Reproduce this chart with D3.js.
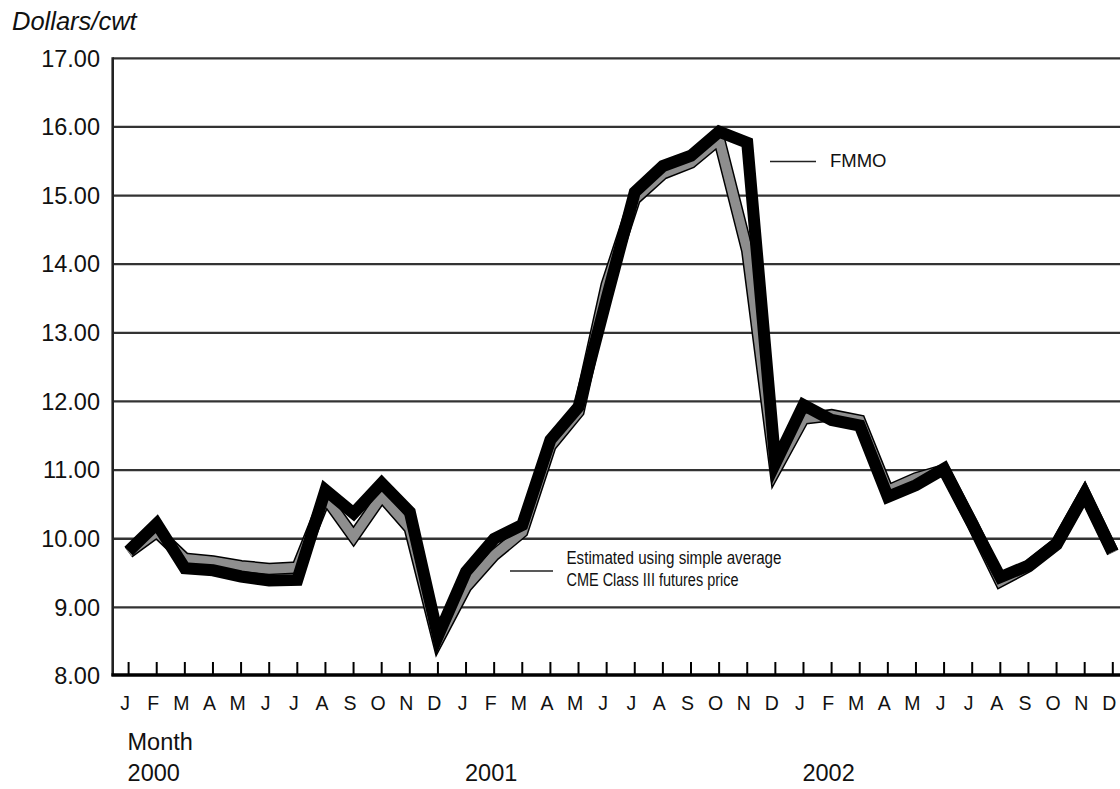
<!DOCTYPE html>
<html>
<head>
<meta charset="utf-8">
<script src="https://cdn.jsdelivr.net/npm/d3@7"></script>
<style>
  html, body { margin: 0; padding: 0; background: #fff; }
  svg { display: block; font-family: "Liberation Sans", Arial, sans-serif; }
</style>
</head>
<body>
<svg id="chart" width="1120" height="789"></svg>
<script>
// ---- data ----
const monthLetters = ["J","F","M","A","M","J","J","A","S","O","N","D",
                      "J","F","M","A","M","J","J","A","S","O","N","D",
                      "J","F","M","A","M","J","J","A","S","O","N","D"];
const years = ["2000", "2001", "2002"];
const fmmo = [9.82, 10.22, 9.57, 9.54, 9.45, 9.39, 9.40, 10.71, 10.37, 10.81, 10.39, 8.58,
              9.52, 10.00, 10.20, 11.44, 11.92, 13.50, 15.05, 15.43, 15.58, 15.93, 15.77, 11.10,
              11.95, 11.73, 11.65, 10.61, 10.78, 11.02, 10.22, 9.44, 9.61, 9.93, 10.66, 9.81];
const estimated = [9.80, 10.10, 9.71, 9.67, 9.60, 9.56, 9.58, 10.60, 10.03, 10.62, 10.15, 8.52,
                   9.30, 9.76, 10.10, 11.35, 11.85, 13.70, 14.95, 15.32, 15.48, 15.82, 14.20, 11.00,
                   11.75, 11.80, 11.72, 10.70, 10.88, 11.00, 10.22, 9.38, 9.60, 9.92, 10.65, 9.80];
const yTicks = [8, 9, 10, 11, 12, 13, 14, 15, 16, 17];
const yAxisTitle = "Dollars/cwt";
const xAxisTitle = "Month";
const legendFMMO = "FMMO";
const legendEst = ["Estimated using simple average", "CME Class III futures price"];

// ---- layout ----
const svg = d3.select("#chart");
const W = 1120;
const x = d3.scaleLinear().domain([0, monthLetters.length - 1]).range([128.6, 1112.8]);
const y = d3.scaleLinear().domain([8, 17]).range([676, 58.3]);
const axisX = 112.7;

// gridlines
svg.append("g").selectAll("line").data(yTicks.filter(d => d > 8)).join("line")
  .attr("x1", axisX).attr("x2", W)
  .attr("y1", d => y(d)).attr("y2", d => y(d))
  .attr("stroke", "#333").attr("stroke-width", 2.3);

// y tick labels
svg.append("g").selectAll("text").data(yTicks).join("text")
  .attr("x", 100).attr("y", d => y(d)).attr("dy", "0.35em")
  .attr("text-anchor", "end").attr("font-size", 23.5).attr("fill", "#111")
  .text(d => d.toFixed(2));

// y axis title
svg.append("text").attr("x", 12).attr("y", 29.5)
  .attr("font-size", 25.5).attr("font-style", "italic").attr("fill", "#111")
  .text(yAxisTitle);

// lines
const idx = d3.range(monthLetters.length);
const lineGen = vals => d3.line().x(i => x(i)).y(i => y(vals[i]))(idx);

svg.append("path").attr("d", lineGen(estimated))
  .attr("fill", "none").attr("stroke", "#000").attr("stroke-width", 12.5)
  .attr("stroke-linejoin", "miter").attr("stroke-miterlimit", 6);
svg.append("path").attr("d", lineGen(estimated))
  .attr("fill", "none").attr("stroke", "#8e8e8e").attr("stroke-width", 9.5)
  .attr("stroke-linejoin", "miter").attr("stroke-miterlimit", 6);
svg.append("path").attr("d", lineGen(fmmo))
  .attr("fill", "none").attr("stroke", "#000").attr("stroke-width", 12)
  .attr("stroke-linejoin", "miter").attr("stroke-miterlimit", 6);

// axes
svg.append("line").attr("x1", axisX).attr("x2", axisX).attr("y1", y(17) - 1).attr("y2", 676)
  .attr("stroke", "#222").attr("stroke-width", 2.6);
svg.append("line").attr("x1", axisX - 1.3).attr("x2", W).attr("y1", 675).attr("y2", 675)
  .attr("stroke", "#000").attr("stroke-width", 3.6);
svg.append("g").selectAll("line").data(idx).join("line")
  .attr("x1", i => x(i)).attr("x2", i => x(i))
  .attr("y1", 662).attr("y2", 675)
  .attr("stroke", "#000").attr("stroke-width", 2);

// month labels
svg.append("g").selectAll("text").data(idx).join("text")
  .attr("x", i => x(i) - 3.5).attr("y", 710)
  .attr("text-anchor", "middle").attr("font-size", 19.5).attr("fill", "#111")
  .text(i => monthLetters[i]);

// x title and years
svg.append("text").attr("x", 127.5).attr("y", 750)
  .attr("font-size", 23.5).attr("fill", "#111").text(xAxisTitle);
svg.append("g").selectAll("text").data(years).join("text")
  .attr("x", (d, k) => x(k * 12) - 1).attr("y", 781)
  .attr("font-size", 23.5).attr("fill", "#111").text(d => d);

// legends
svg.append("line").attr("x1", 770).attr("x2", 816).attr("y1", 161.5).attr("y2", 161.5)
  .attr("stroke", "#222").attr("stroke-width", 1.6);
svg.append("text").attr("x", 830).attr("y", 166.5)
  .attr("font-size", 18.5).attr("fill", "#111").text(legendFMMO);

svg.append("line").attr("x1", 510).attr("x2", 553).attr("y1", 571).attr("y2", 571)
  .attr("stroke", "#222").attr("stroke-width", 1.6);
const legW = [215, 172];
svg.append("g").selectAll("text").data(legendEst).join("text")
  .attr("x", 566.5).attr("y", (d, k) => 564 + k * 21.5)
  .attr("font-size", 18).attr("fill", "#111")
  .attr("textLength", (d, k) => legW[k]).attr("lengthAdjust", "spacingAndGlyphs")
  .text(d => d);
</script>
</body>
</html>
